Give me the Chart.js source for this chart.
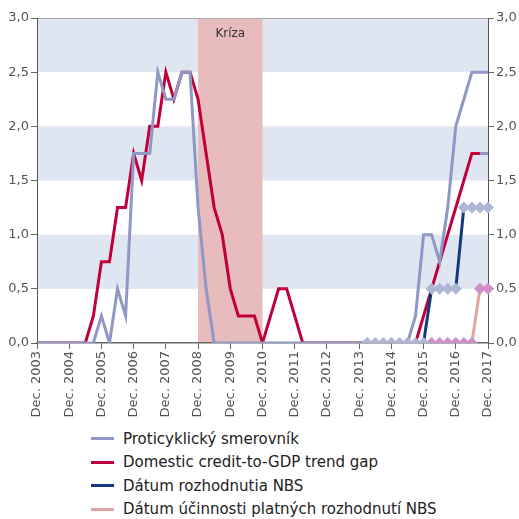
<!DOCTYPE html>
<html>
<head>
<meta charset="utf-8">
<script src="https://cdn.jsdelivr.net/npm/chart.js@4"></script>
<style>
  body { margin: 0; background: #fff; }
  #wrap { position: relative; width: 519px; height: 519px; }
  #box { position: absolute; left: 0; top: 0; width: 519px; height: 425px; }
  #legend { position: absolute; left: 91px; top: 427px; font-family: "DejaVu Sans"; font-size: 15px; color: #222; }
  .row { display: flex; align-items: center; height: 23.5px; white-space: nowrap; }
  .row .l { display: inline-block; width: 23px; height: 3px; margin-right: 9px; }
</style>
</head>
<body>
<div id="wrap">
  <div id="box"><canvas id="chart"></canvas></div>
  <div id="legend"></div>
</div>
<script>
// roky a štvrťroky na osi x (Dec. 2003 .. Dec. 2017)
const years = ['2003', '2004', '2005', '2006', '2007', '2008', '2009', '2010',
               '2011', '2012', '2013', '2014', '2015', '2016', '2017'];
const months = ['Mar.', 'Jun.', 'Sep.', 'Dec.'];

// Proticyklický smerovník (štvrťročne)
const guide = [0,
  0, 0, 0, 0,
  0, 0, 0, 0.25,
  0, 0.5, 0.25, 1.75,
  1.75, 1.75, 2.5, 2.25,
  2.25, 2.5, 2.5, 1.25,
  0.5, 0, 0, 0,
  0, 0, 0, 0,
  0, 0, 0, 0,
  0, 0, 0, 0,
  0, 0, 0, 0,
  0, 0, 0, 0,
  0, 0, 0.25, 1.0,
  1.0, 0.75, 1.25, 2.0,
  2.25, 2.5, 2.5, 2.5];

// Domestic credit-to-GDP trend gap
const creditGap = [0,
  0, 0, 0, 0,
  0, 0, 0.25, 0.75,
  0.75, 1.25, 1.25, 1.75,
  1.5, 2.0, 2.0, 2.5,
  2.25, 2.5, 2.5, 2.25,
  1.75, 1.25, 1.0, 0.5,
  0.25, 0.25, 0.25, 0,
  0.25, 0.5, 0.5, 0.25,
  0, 0, 0, 0,
  0, 0, 0, 0,
  0, 0, 0, 0,
  0, 0, 0, 0.25,
  0.5, 0.75, 1.0, 1.25,
  1.5, 1.75, 1.75, 1.75];

// Dátum rozhodnutia NBS (od Mar. 2014)
const decisionStart = 41;
const decision = [0, 0, 0, 0, 0, 0, 0, 0, 0.5, 0.5, 0.5, 0.5, 1.25, 1.25, 1.25, 1.25];

// Dátum účinnosti platných rozhodnutí NBS (od Mar. 2016)
const effectStart = 49;
const effect = [0, 0, 0, 0, 0, 0, 0.5, 0.5];

// pásy pozadia a obdobie krízy
const yBands = [[0.5, 1.0], [1.5, 2.0], [2.5, 3.0]];
const crisis = ['Dec. 2008', 'Dec. 2010'];
const crisisText = 'Kríza';

const yTicks = [0, 0.5, 1.0, 1.5, 2.0, 2.5, 3.0];

const seriesNames = ['Proticyklický smerovník', 'Domestic credit-to-GDP trend gap',
                     'Dátum rozhodnutia NBS', 'Dátum účinnosti platných rozhodnutí NBS'];

// zostav štítky osi x
const labels = ['Dec. ' + years[0]];
years.slice(1).forEach(y => months.forEach(m => labels.push(m + ' ' + y)));

const pad = (start, arr) => Array(start).fill(null).concat(arr);

const cGuide = '#8f97c6';
const cGap = '#c0003b';
const cNavy = '#123a7d';
const cPink = '#e2a3a3';

const backdrop = {
  id: 'backdrop',
  beforeDraw(chart) {
    const { ctx, chartArea: a, scales } = chart;
    const y = scales.y, x = scales.x;
    ctx.save();
    ctx.fillStyle = '#dfe6f1';
    yBands.forEach(b => {
      const t = y.getPixelForValue(b[1]), btm = y.getPixelForValue(b[0]);
      ctx.fillRect(a.left, t, a.right - a.left, btm - t);
    });
    const x0 = x.getPixelForValue(labels.indexOf(crisis[0]));
    const x1 = x.getPixelForValue(labels.indexOf(crisis[1]));
    ctx.fillStyle = '#e8bcbc';
    ctx.fillRect(x0, a.top, x1 - x0, a.bottom - a.top);
    ctx.fillStyle = '#333';
    ctx.font = '12px "DejaVu Sans"';
    ctx.textAlign = 'center';
    ctx.textBaseline = 'middle';
    ctx.fillText(crisisText, (x0 + x1) / 2, a.top + 16);
    ctx.strokeStyle = '#aaa';
    ctx.lineWidth = 1;
    ctx.beginPath();
    ctx.moveTo(a.left, a.top + 0.5);
    ctx.lineTo(a.right, a.top + 0.5);
    ctx.stroke();
    ctx.restore();
  }
};

const yAxis = (pos, w) => ({
  position: pos,
  min: 0, max: 3,
  afterFit: s => { s.width = w; },
  afterBuildTicks: s => { s.ticks = yTicks.map(v => ({ value: v })); },
  grid: { drawOnChartArea: false, drawTicks: true, tickLength: 6, color: '#666' },
  border: { color: '#555', width: 1 },
  ticks: {
    padding: 2,
    color: '#555',
    font: { family: 'DejaVu Sans', size: 13 },
    callback: v => v.toFixed(1).replace('.', ',')
  }
});

const chart = new Chart(document.getElementById('chart'), {
  type: 'line',
  data: {
    labels: labels,
    datasets: [{
      label: seriesNames[0],
      data: guide,
      borderColor: cGuide,
      borderWidth: 3,
      pointRadius: 0,
      order: 2
    }, {
      label: seriesNames[1],
      data: creditGap,
      borderColor: cGap,
      borderWidth: 3,
      pointRadius: 0,
      order: 3,
      segment: { borderColor: c => c.p1DataIndex === labels.length - 1 ? cGuide : undefined }
    }, {
      label: seriesNames[2],
      data: pad(decisionStart, decision),
      borderColor: cNavy,
      borderWidth: 3,
      pointStyle: 'rectRot',
      pointRadius: 6,
      pointBorderWidth: 0,
      pointBackgroundColor: '#aeb6d6',
      order: 0
    }, {
      label: seriesNames[3],
      data: pad(effectStart, effect),
      borderColor: cPink,
      borderWidth: 3,
      pointStyle: 'rectRot',
      pointRadius: 6,
      pointBorderWidth: 0,
      pointBackgroundColor: '#cd8fc9',
      order: 1
    }]
  },
  options: {
    responsive: true,
    maintainAspectRatio: false,
    animation: false,
    devicePixelRatio: 1,
    layout: { padding: { top: 18, left: 0, right: 0, bottom: 0 } },
    elements: { line: { tension: 0 } },
    plugins: { legend: { display: false }, tooltip: { enabled: false } },
    scales: {
      x: {
        afterFit: s => { s.height = 82; },
        grid: {
          drawOnChartArea: false, drawTicks: true, tickLength: 6,
          tickColor: c => labels[c.index] && labels[c.index].startsWith('Dec.') ? '#666' : 'rgba(0,0,0,0)'
        },
        border: { color: '#666', width: 1.5 },
        ticks: {
          autoSkip: false, minRotation: 90, maxRotation: 90, padding: 2,
          color: '#555',
          font: { family: 'DejaVu Sans', size: 13 },
          callback: (v, i) => labels[i].startsWith('Dec.') ? labels[i] : ''
        }
      },
      y: yAxis('left', 37),
      y2: yAxis('right', 31)
    }
  },
  plugins: [backdrop]
});

// legenda pod grafom
const legendColors = [cGuide, cGap, cNavy, cPink];
document.getElementById('legend').innerHTML = seriesNames.map((n, i) =>
  '<div class="row"><span class="l" style="background:' + legendColors[i] + '"></span>' + n + '</div>'
).join('');
</script>
</body>
</html>
